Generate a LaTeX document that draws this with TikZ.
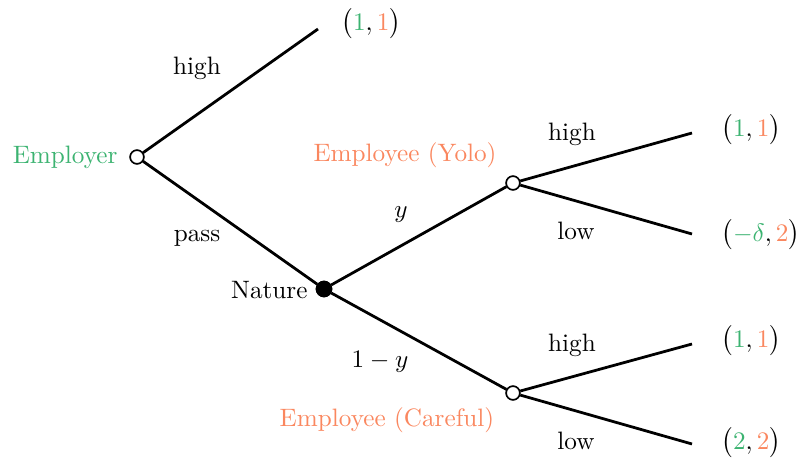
\documentclass[tikz,border=0pt]{standalone}
\usepackage{amsmath}
\definecolor{pg}{RGB}{60,179,113}
\definecolor{po}{RGB}{250,135,95}
\begin{document}
\begin{tikzpicture}[x=0.397pt,y=-0.397pt,
  br/.style={line width=1.1pt},
  onode/.style={circle,draw,fill=white,line width=0.6pt,inner sep=0pt,minimum size=5.4pt},
  fnode/.style={circle,draw,fill=black,line width=0.6pt,inner sep=0pt,minimum size=6pt},
  lbl/.style={inner sep=0pt,font=\fontsize{10}{12}\selectfont},
  pay/.style={lbl,anchor=west}]
\useasboundingbox (0,0) rectangle (800,462);
\node[onode] (emp) at (137,157) {};
\coordinate (t) at (318,29);
\node[fnode] (nat) at (324,289) {};
\node[onode] (yolo) at (513,183) {};
\node[onode] (care) at (513,393) {};
\coordinate (l1) at (692,133);
\coordinate (l2) at (692,234);
\coordinate (l3) at (692,344);
\coordinate (l4) at (692,444);
\draw[br] (emp) -- (t);
\draw[br] (emp) -- (nat);
\draw[br] (nat) -- (yolo);
\draw[br] (nat) -- (care);
\draw[br] (yolo) -- (l1);
\draw[br] (yolo) -- (l2);
\draw[br] (care) -- (l3);
\draw[br] (care) -- (l4);
\node[onode] at (emp) {};
\node[onode] at (yolo) {};
\node[onode] at (care) {};
\node[fnode] at (nat) {};
\node[lbl,text=pg,anchor=east] (empl) at (118,157) {Employer};
\node[lbl,anchor=east] (natl) at (308,290) {Nature};
\node[lbl,text=po] (yl) at (405,155) {Employee (Yolo)};
\node[lbl,text=po] (cl) at (387,420) {Employee (Careful)};
\node[lbl] (h0) at (197,68) {high};
\node[lbl] (p0) at (197,238) {pass};
\node[lbl] (yy) at (401,215) {$y$};
\node[lbl] (ny) at (380,362) {$1-y$};
\node[lbl] (h1) at (572,134) {high};
\node[lbl] (w1) at (576,231) {low};
\node[lbl] (h2) at (572,345) {high};
\node[lbl] (w2) at (576,441) {low};
\node[pay] (r0) at (341,24) {$\bigl(\textcolor{pg}{1},\textcolor{po}{1}\bigr)$};
\node[pay] (r1) at (721,130) {$\bigl(\textcolor{pg}{1},\textcolor{po}{1}\bigr)$};
\node[pay] (r2) at (721,235) {$\bigl(\textcolor{pg}{-\delta},\textcolor{po}{2}\bigr)$};
\node[pay] (r3) at (721,341) {$\bigl(\textcolor{pg}{1},\textcolor{po}{1}\bigr)$};
\node[pay] (r4) at (721,443) {$\bigl(\textcolor{pg}{2},\textcolor{po}{2}\bigr)$};
\end{tikzpicture}
\end{document}
